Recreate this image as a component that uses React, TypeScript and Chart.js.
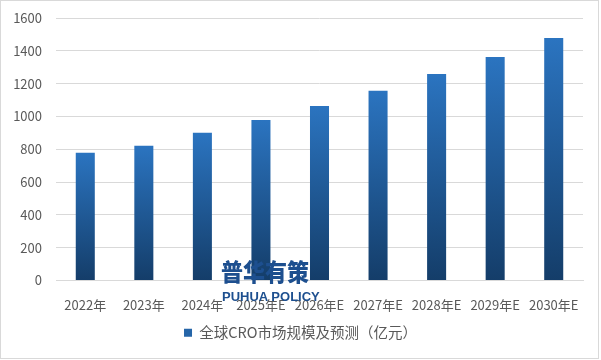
import React, { useEffect, useRef } from "react";
import { Chart, registerables } from "chart.js";

Chart.register(...registerables);

const categories = ["2022年", "2023年", "2024年", "2025年E", "2026年E", "2027年E", "2028年E", "2029年E", "2030年E"];
const marketSize = [778, 821, 900, 979, 1064, 1156, 1259, 1362, 1478];
const seriesName = "全球CRO市场规模及预测（亿元）";
const yTicks = [0, 200, 400, 600, 800, 1000, 1200, 1400, 1600];

const FONT = '"Noto Sans CJK SC", "Noto Sans", sans-serif';
const TEXT = "#595959";
const GRID = "#d9d9d9";
const TOP_COLOR = "#2b74c0";
const BOTTOM_COLOR = "#143d69";

export default function App() {
  const ref = useRef<HTMLCanvasElement | null>(null);

  useEffect(() => {
    const canvas = ref.current;
    if (!canvas) return;
    const chart = new Chart(canvas, {
      type: "bar",
      data: {
        labels: categories,
        datasets: [
          {
            label: seriesName,
            data: marketSize,
            barPercentage: 0.325,
            categoryPercentage: 1,
            backgroundColor: (ctx: any) => {
              const c = ctx.chart;
              const area = c.chartArea;
              if (!area || ctx.type !== "data") return TOP_COLOR;
              const y = c.scales.y;
              const top = y.getPixelForValue(ctx.raw as number);
              const bottom = y.getPixelForValue(0);
              const g = c.ctx.createLinearGradient(0, top, 0, bottom);
              g.addColorStop(0, TOP_COLOR);
              g.addColorStop(1, BOTTOM_COLOR);
              return g;
            },
          },
        ],
      },
      options: {
        responsive: false,
        animation: false,
        layout: { padding: { left: 0, right: 0, top: 18, bottom: 10 } },
        scales: {
          x: {
            grid: { display: false },
            border: { color: GRID },
            ticks: {
              color: TEXT,
              font: { family: FONT, size: 13 },
              padding: 9,
              maxRotation: 0,
              autoSkip: false,
            },
            afterFit: (s: any) => {
              s.height = 35;
            },
          },
          y: {
            min: 0,
            max: 1600,
            afterBuildTicks: (s: any) => {
              s.ticks = yTicks.map((v) => ({ value: v }));
            },
            grid: { color: GRID, drawTicks: false },
            border: { display: false },
            ticks: {
              color: TEXT,
              font: { family: FONT, size: 13 },
              padding: 14,
              callback: (v: any) => String(v),
            },
            afterFit: (s: any) => {
              s.width = 56;
              s.paddingTop = 8;
              s.paddingBottom = 8;
            },
          },
          yr: {
            position: "right",
            min: 0,
            max: 1,
            grid: { display: false },
            border: { display: false },
            ticks: { display: false },
            afterFit: (s: any) => {
              s.width = 18;
              s.paddingTop = 0;
              s.paddingBottom = 0;
            },
          },
        },
        plugins: {
          tooltip: { enabled: false },
          legend: {
            position: "bottom",
            labels: {
              color: TEXT,
              font: { family: FONT, size: 14.5 },
              boxWidth: 8,
              boxHeight: 8,
              padding: 10,
              generateLabels: () => [
                {
                  text: seriesName,
                  fillStyle: "#2565a8",
                  strokeStyle: "#2565a8",
                  lineWidth: 0,
                  hidden: false,
                  datasetIndex: 0,
                  fontColor: TEXT,
                } as any,
              ],
            },
          },
        },
      },
    });
    return () => chart.destroy();
  }, []);

  return (
    <div style={{ position: "fixed", left: 0, top: 0, width: 601, height: 360, background: "#fff" }}>
      <canvas ref={ref} width={601} height={360} style={{ position: "absolute", left: 0, top: 0, width: 601, height: 360 }} />
      <div
        style={{
          position: "absolute",
          left: 0,
          top: 0,
          width: 599,
          height: 359,
          border: "1px solid #d9d9d9",
          boxSizing: "border-box",
          pointerEvents: "none",
        }}
      />
      <div
        style={{
          position: "absolute",
          left: 221,
          top: 255,
          width: 90,
          fontFamily: FONT,
          fontWeight: 900,
          fontSize: 22,
          lineHeight: "30px",
          color: "#1d4f8f",
          whiteSpace: "nowrap",
          transform: "scaleY(1.1)",
        }}
      >
        普华有策
      </div>
      <div
        style={{
          position: "absolute",
          left: 222,
          top: 289,
          fontFamily: "Liberation Sans, sans-serif",
          fontWeight: 700,
          fontSize: 13,
          lineHeight: "16px",
          color: "#1d4f8f",
          whiteSpace: "nowrap",
        }}
      >
        PUHUA POLICY
      </div>
    </div>
  );
}
